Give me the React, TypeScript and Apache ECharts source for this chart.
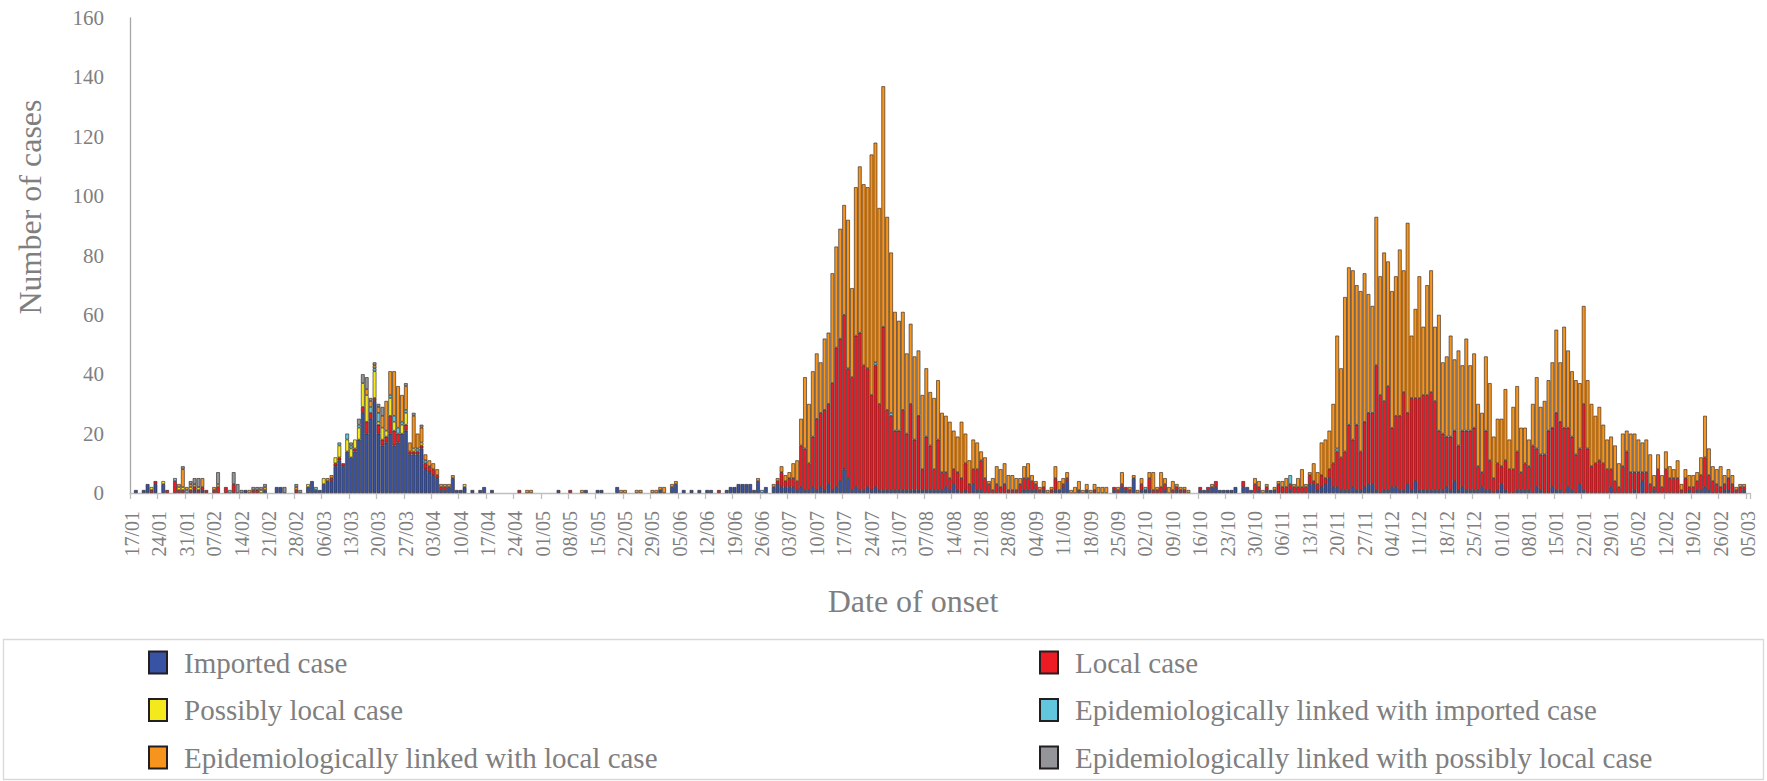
import React, { useEffect, useRef } from "react";
import * as echarts from "echarts";

// One row per week, starting on the date shown in the comment (last row: 05/03/2021)
const importedWeeks: number[][] = [
  [0,1,0,1,3,0,3],[0,3,0,0,0,0,0],[0,0,1,0,1,0,0],[0,0,0,0,0,0,0],[0,1,0,0,0,0,1],[0,0,2,2,0,0,0],[0,0,0,2,4,1,1],
  [3,4,4,9,11,9,14],[12,14,18,27,20,25,31],[20,16,17,20,16,17,20],[21,13,13,13,15,8,7],[6,5,1,1,2,5,1],[1,2,0,1,0,1,2],
  [0,1,0,0,0,0,0],[0,0,0,0,0,0,0],[0,0,0,0,1,0,0],[0,0,0,0,1,0,0],[1,1,0,0,0,2,0],[0,0,0,0,0,0,0],[0,0,1,0,0,2,3],
  [0,1,0,1,0,1,0],[1,1,0,0,0,1,2],[2,3,3,3,3,1,4],[0,2,0,2,3,2,2],[2,2,1,2,1,1,2],[1,2,1,3,1,2,4],[8,5,1,2,1,1,2],
  [1,2,1,1,1,1,1],[1,1,1,1,1,1,1],[1,1,1,1,1,2,1],[3,1,0,1,0,3,1],[1,0,0,0,0,0,0],[0,0,0,0,1,1,1],[1,0,1,0,0,1,1],
  [2,4,0,0,1,0,1],[0,0,0,0,0,0,1],[0,2,1,0,5,0,1],[1,1,0,0,0,1,0],[0,1,0,0,0,0,0],[1,1,1,2,2,1,1],[1,1,2,0,2,2,1],
  [0,1,0,1,1,1,0],[0,0,1,0,0,0,0],[3,3,1,2,3,5,2],[2,1,1,1,2,1,1],[2,3,3,1,0,1,1],[2,2,1,1,3,1,4],[1,1,1,1,1,1,1],
  [2,1,4,1,2,1,1],[1,1,2,1,1,0,1],[3,1,0,0,1,1,1],[1,0,2,1,0,0,2],[1,1,0,2,1,0,3],[1,0,0,0,0,0,0],[2,0,0,0,0,0,1],
  [0,4,0,0,1,0,0],[0,0,0,0,0,0,1],[0,1,1,2,1,0,0],[0,1,1,0,0,0,1],[0],
];

const localWeeks: number[][] = [
  [0,0,0,0,0,1,1],[0,0,1,0,4,1,1],[0,1,1,1,1,1,0],[1,2,0,2,0,3,0],[0,0,0,1,1,0,0],[0,0,0,0,0,0,0],[1,0,0,0,0,0,0],
  [0,0,1,1,1,1,0],[0,1,0,2,4,2,1],[3,2,2,6,5,3,0],[2,1,1,1,1,2,2],[2,1,1,1,0,0,0],[0,0,0,0,0,0,0],
  [0,0,0,0,0,0,0],[0,1,0,0,0,0,0],[0,0,0,0,0,0,0],[1,0,0,0,0,0,0],[0,0,0,0,0,0,0],[0,0,0,0,0,0,0],[0,0,0,0,0,0,0],
  [0,0,0,0,0,0,0],[0,0,0,1,0,0,0],[0,0,0,0,0,0,0],[0,0,0,0,1,5,2],[3,3,3,14,14,9,17],[24,25,27,27,36,47,48],[52,37,38,51,53,42,40],
  [32,41,29,55,27,25,20],[20,27,19,29,17,25,7],[18,15,7,17,6,5,4],[5,6,5,9,3,5,7],[10,5,3,1,3,2,3],[1,1,1,3,4,4,3],[2,1,1,0,1,4,0],
  [1,1,0,0,0,0,0],[0,1,0,0,0,0,1],[1,1,1,1,0,0,2],[0,4,1,1,2,2,0],[1,1,1,1,0,0,0],[1,0,1,0,2,0,0],[0,0,0,0,2,0,0],
  [3,1,0,1,0,0,3],[2,2,2,2,2,2,2],[3,1,2,4,2,3,8],[12,11,13,22,16,22,13],[22,24,24,42,33,30,35],[20,24,25,33,24,31,28],[31,32,32,33,30,20,19],
  [17,18,17,15,19,20,20],[21,8,5,20,10,5,9],[6,10,8,8,13,6,9],[8,16,13,12,13,21,20],[26,23,22,20,18,13,12],[29,15,9,10,11,10,8],[6,4,2,9,14,7,6],
  [7,3,7,3,1,8,2],[8,5,5,5,1,5,1],[2,3,5,10,5,4,3],[2,2,4,3,1,2,1],[0],
];

const possiblyLocalWeeks: number[][] = [
  [0,0,0,0,0,1,0],[0,1,0,0,0,1,1],[0,1,0,1,0,0,0],[0,0,0,0,0,0,0],[0,0,0,0,0,1,0],[0,0,0,0,0,0,0],[0,0,0,1,0,0,0],
  [2,0,0,2,4,0,4],[3,3,4,8,9,0,9],[1,4,2,6,3,0,3],[4,0,1,0,1,0,0],[0,0,0,0,0,0,0],[0,1,0,0,0,0,0],
];

const epiImportedWeeks: number[][] = [
  [0,0,0,0,0,0,0],[0,0,0,0,1,0,0],[1,0,0,0,0,0,0],[0,0,0,0,1,0,0],[0,0,0,0,0,0,0],[0,0,0,0,0,0,0],[0,0,0,0,0,1,0],
  [0,0,0,0,1,0,2],[1,0,1,0,0,2,1],[3,0,0,1,2,2,1],[1,0,0,1,0,1,0],[0,0,0,0,0,0,0],[0,0,0,0,0,0,0],
  [0,0,0,0,0,0,0],[0,0,0,0,0,0,0],[0,0,0,0,0,0,0],[0,0,0,0,0,0,0],[0,0,0,0,0,0,0],[0,0,0,0,0,0,0],[0,0,0,0,0,0,0],
  [0,0,0,0,0,0,0],[0,0,0,0,0,0,0],[0,0,0,0,0,0,0],[1,0,0,0,0,0,0],[0,0,0,0,0,0,0],[0,0,0,0,0,0,0],[0,0,0,0,0,0,0],
  [0,1,0,0,0,1,0],[0,0,0,0,0,0,0],[0,0,0,0,0,0,0],[0,0,0,0,0,0,0],[0,0,0,0,0,0,0],[0,0,0,0,0,0,0],[0,0,0,0,0,0,0],
  [0,0,0,0,0,0,0],[0,0,0,0,0,0,0],[0,0,0,0,0,0,0],[1,0,0,0,0,0,0],[0,0,0,0,0,0,0],[0,0,0,0,0,0,0],[0,0,0,0,0,0,0],
  [0,0,0,0,0,0,0],[0,0,3,0,0,0,0],[0,0,0,0,0,0,0],[1,0,0,0,0,0,0],
];

const epiLocalWeeks: number[][] = [
  [0,0,0,0,0,0,0],[0,0,0,0,0,1,6],[1,1,1,0,3,0,0],[1,1,0,0,0,0,0],[0,0,1,0,0,0,1],[0,0,0,0,0,0,0],[1,0,0,0,0,0,0],
  [0,1,1,0,0,0,0],[0,0,0,0,2,2,1],[2,4,10,8,15,14,9],[8,3,11,5,5,2,2],[2,2,1,1,1,1,0],[0,0,0,0,0,0,0],
  [0,0,0,0,0,0,0],[0,0,0,1,1,0,0],[0,0,0,0,0,0,0],[0,0,0,1,0,0,0],[0,0,0,0,0,0,1],[1,0,0,1,1,0,0],[1,1,1,2,0,1,1],
  [0,0,0,0,0,0,0],[0,0,0,0,0,0,0],[0,0,0,0,0,0,1],[0,0,0,1,1,2,2],[2,5,7,9,24,20,22],[22,17,24,24,37,34,37],[37,50,30,50,56,61,61],
  [81,74,66,81,65,54,40],[37,33,27,27,28,22,25],[23,18,24,20,20,19,19],[13,12,19,10,8,10,9],[3,7,1,4,6,6,7],[5,5,4,2,4,5,2],[1,1,2,1,1,4,3],
  [2,2,1,2,3,1,2],[1,2,2,2,2,0,0],[1,4,0,1,1,1,2],[0,2,6,1,5,2,2],[3,1,1,1,1,0,0],[0,0,0,1,0,0,0],[0,0,0,0,0,0,0],
  [2,2,1,1,0,1,1],[2,3,0,1,3,6,1],[1,6,4,11,13,13,20],[38,30,52,53,57,47,54],[50,40,36,50,40,50,42],[46,47,56,41,64,21,30],[41,23,37,41,25,39,24],
  [27,34,24,32,22,31,22],[25,21,20,25,26,14,15],[16,24,10,21,22,15,12],[9,14,24,16,18,17,22],[28,20,34,26,22,25,22],[33,23,21,16,18,13,10],[11,12,8,11,7,13,13],
  [11,10,11,10,4,5,4],[6,4,3,6,2,3,4],[4,3,6,14,9,5,5],[7,3,3,3,1,1,1],[0],
];

const epiPossiblyLocalWeeks: number[][] = [
  [0,0,0,0,0,0,0],[0,0,0,0,0,0,1],[0,1,2,3,0,0,0],[0,4,0,0,0,4,3],[1,0,0,1,1,1,1],[0,0,0,0,2,0,0],[1,1,0,0,0,0,0],
  [0,0,0,0,0,0,0],[1,0,2,3,4,1,1],[1,3,0,0,0,0,0],[1,0,1,0,1,0,0],
];

const seriesNames = [
  "Imported case",
  "Local case",
  "Possibly local case",
  "Epidemiologically linked with imported case",
  "Epidemiologically linked with local case",
  "Epidemiologically linked with possibly local case",
];
const seriesColors = ["#3953a4", "#ed1c24", "#f4e91c", "#62c6dc", "#f7941d", "#939598"];
const seriesWeeks = [
  importedWeeks,
  localWeeks,
  possiblyLocalWeeks,
  epiImportedWeeks,
  epiLocalWeeks,
  epiPossiblyLocalWeeks,
];

const FIRST_DAY = Date.UTC(2020, 0, 17);
const DAY_COUNT = 414;

const yTicks = { min: 0, max: 160, interval: 20 };
const legendLeftColumn = [seriesNames[0], seriesNames[2], seriesNames[4]];
const legendRightColumn = [seriesNames[1], seriesNames[3], seriesNames[5]];

const FONT = "'Liberation Serif', 'Times New Roman', serif";
const TEXT_GRAY = "#7f7f7f";

function buildDays(): string[] {
  const out: string[] = [];
  for (let i = 0; i < DAY_COUNT; i++) {
    const d = new Date(FIRST_DAY + i * 86400000);
    out.push(d.toISOString().slice(0, 10));
  }
  return out;
}

function toDaily(weeks: number[][]): (number | string)[] {
  const flat = weeks.flat();
  const out: (number | string)[] = [];
  for (let i = 0; i < DAY_COUNT; i++) {
    const v = flat[i] || 0;
    out.push(v > 0 ? v : "-");
  }
  return out;
}

export default function App() {
  const ref = useRef<HTMLDivElement>(null);

  useEffect(() => {
    if (!ref.current) return;
    const chart = echarts.init(ref.current, null, { renderer: "svg" });
    const days = buildDays();

    const series = seriesNames.map((name, k) => ({
      name,
      type: "bar",
      stack: "cases",
      data: toDaily(seriesWeeks[k]),
      barCategoryGap: "6%",
      itemStyle: {
        color: seriesColors[k],
        borderColor: "#231f20",
        borderWidth: 0.6,
      },
      emphasis: { disabled: true },
    }));

    const legendBase = {
      orient: "vertical",
      top: 648,
      padding: 0,
      itemWidth: 18,
      itemHeight: 22,
      itemGap: 18.5,
      icon: "rect",
      selectedMode: false,
      textStyle: {
        color: TEXT_GRAY,
        fontSize: 29,
        fontFamily: FONT,
        lineHeight: 29,
        padding: [0, 0, 0, 12],
      },
    };

    chart.setOption({
      animation: false,
      grid: { left: 130, top: 18, width: 1620, height: 475, containLabel: false },
      xAxis: {
        type: "category",
        data: days,
        boundaryGap: true,
        axisLine: { show: true, lineStyle: { color: "#bfbfbf", width: 1.3 } },
        axisTick: { show: true, interval: 6, length: 6, lineStyle: { color: "#bfbfbf", width: 1.3 } },
        axisLabel: {
          interval: 6,
          rotate: 90,
          margin: 18,
          color: TEXT_GRAY,
          fontSize: 20,
          fontFamily: FONT,
          formatter: (v: string) => `${v.slice(8, 10)}/${v.slice(5, 7)}`,
        },
        splitLine: { show: false },
      },
      yAxis: {
        type: "value",
        min: yTicks.min,
        max: yTicks.max,
        interval: yTicks.interval,
        axisLine: { show: true, lineStyle: { color: "#a6a6a6", width: 1.3 } },
        axisTick: { show: false },
        splitLine: { show: false },
        axisLabel: { margin: 26, color: TEXT_GRAY, fontSize: 21, fontFamily: FONT },
      },
      legend: [
        { ...legendBase, left: 148, data: legendLeftColumn },
        { ...legendBase, left: 1039, data: legendRightColumn },
      ],
      graphic: [
        {
          type: "rect",
          silent: true,
          shape: { x: 3.5, y: 639.5, width: 1760, height: 140 },
          style: { fill: "none", stroke: "#d9d9d9", lineWidth: 1.3 },
          z: -1,
        },
        {
          type: "text",
          x: 30,
          y: 207,
          rotation: Math.PI / 2,
          style: {
            text: "Number of cases",
            fill: TEXT_GRAY,
            font: `32px ${FONT}`,
            textAlign: "center",
            textVerticalAlign: "middle",
            align: "center",
            verticalAlign: "middle",
          },
        },
        {
          type: "text",
          x: 913,
          y: 601,
          style: {
            text: "Date of onset",
            fill: TEXT_GRAY,
            font: `32px ${FONT}`,
            textAlign: "center",
            textVerticalAlign: "middle",
            align: "center",
            verticalAlign: "middle",
          },
        },
      ],
      series,
    });

    return () => chart.dispose();
  }, []);

  return (
    <div
      ref={ref}
      style={{ position: "fixed", left: 0, top: 0, width: 1767, height: 781, background: "#ffffff" }}
    />
  );
}
